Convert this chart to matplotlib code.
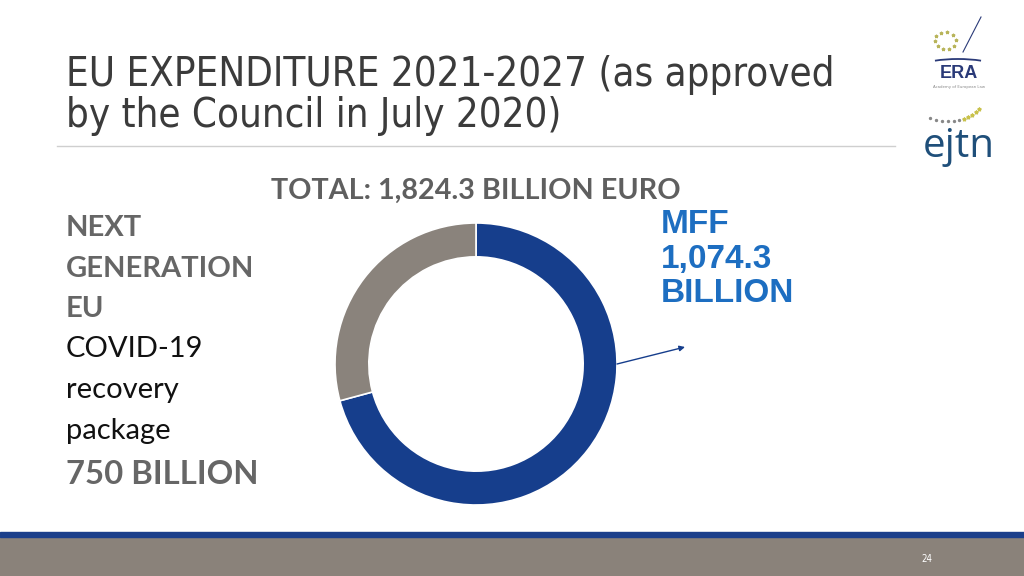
import matplotlib.pyplot as plt
from matplotlib.patches import Rectangle, Arc

# values as shown on the slide
segments = ["MFF", "Next Generation EU"]
amounts_bn = [1074.3, 750.0]
total_bn = 1824.3
# share of the ring each slice takes in the drawing
ring_share = [70.8, 29.2]
colors = ["#163e8c", "#8a837c"]

W, H = 1024, 576


def fx(x):
    return x / W


def fy(y):
    return 1 - y / H


fig = plt.figure(figsize=(W / 100, H / 100), dpi=100)
fig.patch.set_facecolor("white")

# title
title_kw = dict(fontsize=28.8, family="DejaVu Sans", fontstretch="condensed",
                color="#3b3b3b", va="baseline")
fig.text(fx(66), fy(86), "EU EXPENDITURE 2021-2027 (as approved", **title_kw)
fig.text(fx(66), fy(127), "by the Council in July 2020)", **title_kw)
fig.add_artist(plt.Line2D([fx(57), fx(895)], [fy(146), fy(146)], color="#cfcfcf", lw=1))

# logos, drawn roughly in a small pixel-space axes
lg = fig.add_axes([fx(905), fy(175), 119 / W, 175 / H])
lg.set_xlim(905, 1024)
lg.set_ylim(175, 0)
lg.axis("off")
lg.add_patch(Arc((958, 74), 100, 30, theta1=210, theta2=330, color="#2a3a78", lw=1.3))
lg.plot([963, 981], [52, 17], color="#2a3a78", lw=0.8)
star_x = [936, 941, 947, 953, 956, 954, 949, 943, 938, 935]
star_y = [36, 33, 32, 35, 40, 46, 49, 49, 46, 41]
lg.scatter(star_x, star_y, s=4, color="#b8b45a", marker="*")
lg.text(959, 78, "ERA", fontsize=13, fontweight="bold", color="#2a3a78",
        ha="center", va="baseline", family="Liberation Sans")
lg.text(959, 88, "Academy of European Law", fontsize=2.8, color="#888888",
        ha="center", va="baseline")
dots_x = [930, 936, 942, 948, 954, 959, 964, 968, 972, 976, 979]
dots_y = [118, 120, 121, 121, 121, 120, 119, 117, 115, 112, 109]
lg.scatter(dots_x, dots_y, s=2, color="#888888")
lg.scatter(dots_x[6:], dots_y[6:], s=6, color="#c9c24a", marker="*")
lg.text(959, 157, "ejtn", fontsize=29, color="#1f4f7a", ha="center",
        va="baseline", family="Open Sans")

# total header
fig.text(fx(476), fy(199), f"TOTAL: {total_bn:,.1f} BILLION EURO", fontsize=20.7,
         fontweight="bold", color="#5f5f5f", ha="center", va="baseline", family="Lato")

# left text block
left = [("NEXT", "bold", "#666666"),
        ("GENERATION", "bold", "#666666"),
        ("EU", "bold", "#666666"),
        ("COVID-19", "normal", "#111111"),
        ("recovery", "normal", "#111111"),
        ("package", "normal", "#111111")]
ys = [236, 277, 317, 357, 398, 439]
for (txt, w, c), y in zip(left, ys):
    fig.text(fx(66), fy(y), txt, fontsize=21, fontweight=w, color=c, va="baseline",
             family="Lato")
fig.text(fx(66), fy(484), f"{amounts_bn[1]:,.0f} BILLION", fontsize=23.7, fontweight="bold",
         color="#666666", va="baseline", family="Lato")

# MFF label
mff_lines = [segments[0], f"{amounts_bn[0]:,.1f}", "BILLION"]
for txt, y in zip(mff_lines, [233, 268, 302]):
    fig.text(fx(661), fy(y), txt, fontsize=24, fontweight="bold", color="#1d6ec1",
             va="baseline", family="Liberation Sans")

# donut
cx, cy, r = 476, 364, 141
ax = fig.add_axes([fx(cx - r), fy(cy + r), 2 * r / W, 2 * r / H])
ax.pie(ring_share, colors=colors, startangle=90, counterclock=False, radius=1.0,
       wedgeprops=dict(width=0.24, edgecolor="white", linewidth=1.2))
ax.set_xlim(-1, 1)
ax.set_ylim(-1, 1)
ax.axis("off")

ax.annotate("", xy=(fx(685), fy(347)), xycoords="figure fraction",
            xytext=(1.0, 0.0), textcoords="data",
            arrowprops=dict(arrowstyle="-|>", color="#163e8c", lw=1, mutation_scale=8,
                            shrinkA=0, shrinkB=0))

# footer
fig.add_artist(Rectangle((0, 0), 1, fy(537), transform=fig.transFigure,
                         color="#8a827a", zorder=0))
fig.add_artist(Rectangle((0, fy(537)), 1, 5.5 / H, transform=fig.transFigure,
                         color="#1b3f8b", zorder=0))
fig.text(fx(927), fy(562), "24", fontsize=7, color="white", ha="center",
         va="baseline", family="DejaVu Sans", fontstretch="condensed")

fig.savefig("out.png", dpi=100)
